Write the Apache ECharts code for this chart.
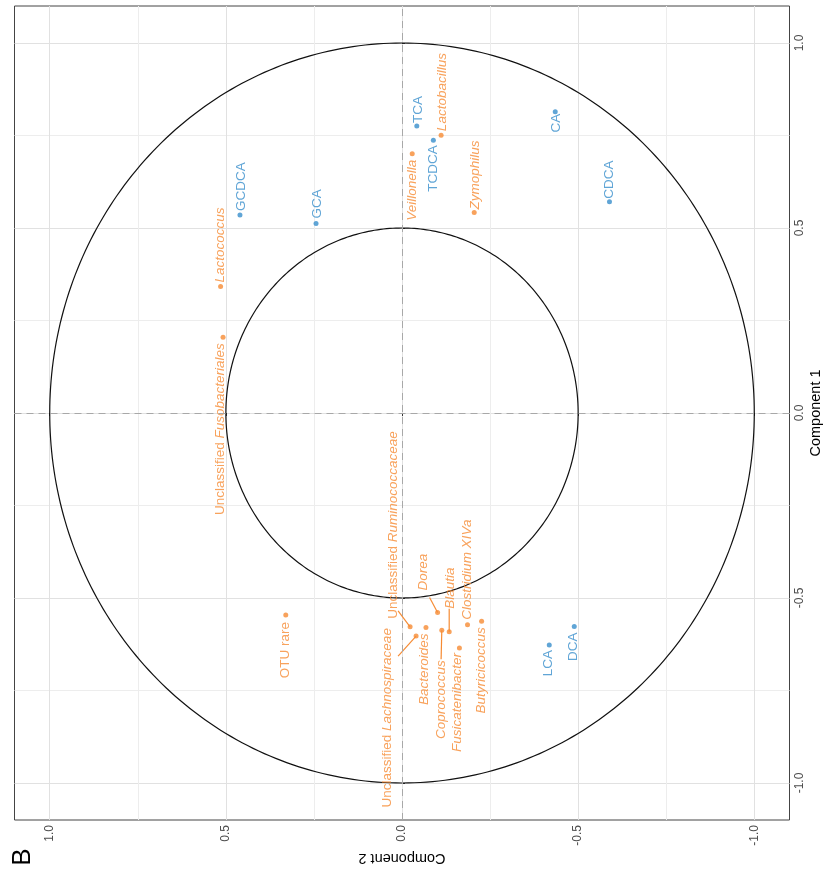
<!DOCTYPE html>
<html>
<head>
<meta charset="utf-8">
<script src="https://cdn.jsdelivr.net/npm/echarts@6/dist/echarts.min.js"></script>
<style>
  html, body { margin: 0; padding: 0; background: #fff; }
  #chart { width: 827px; height: 877px; }
</style>
</head>
<body>
<div id="chart"></div>
<script>
// Bile acids (component 1 = vertical, component 2 = horizontal)
const bileAcids = ['TCA', 'TCDCA', 'CA', 'CDCA', 'GCDCA', 'GCA', 'LCA', 'DCA'];
const bileComp1 = [0.776, 0.737, 0.814, 0.571, 0.535, 0.512, -0.627, -0.577];
const bileComp2 = [-0.042, -0.089, -0.435, -0.589, 0.460, 0.244, -0.418, -0.489];

// Bacterial taxa
const taxa = ['Lactobacillus', 'Veillonella', 'Zymophilus', 'Lactococcus',
  'Unclassified Fusobacteriales', 'OTU rare', 'Unclassified Ruminococcaceae',
  'Unclassified Lachnospiraceae', 'Bacteroides', 'Dorea', 'Coprococcus', 'Blautia',
  'Clostridium XIVa', 'Fusicatenibacter', 'Butyricicoccus'];
const taxaComp1 = [0.751, 0.701, 0.542, 0.342, 0.205, -0.546, -0.578, -0.603, -0.580,
  -0.539, -0.587, -0.591, -0.572, -0.635, -0.563];
const taxaComp2 = [-0.111, -0.029, -0.205, 0.515, 0.508, 0.330, -0.023, -0.040, -0.068,
  -0.101, -0.113, -0.134, -0.186, -0.163, -0.226];

// Correlation circles and axis breaks
const circleRadii = [0.5, 1];
const axisBreaks = [-1, -0.5, 0, 0.5, 1];
const gridBreaks = [-1, -0.75, -0.5, -0.25, 0, 0.25, 0.5, 0.75, 1];

// Label placement in px from each point: [dx, dy, direction the text runs]
const labelPlace = {
  'TCA': [1, -3, 'up'],
  'TCDCA': [0, 5, 'down'],
  'CA': [1, 2, 'down'],
  'CDCA': [0, -3, 'up'],
  'GCDCA': [1, -4, 'up'],
  'GCA': [1, -5, 'up'],
  'LCA': [-1, 5, 'down'],
  'DCA': [-1, 6, 'down'],
  'Lactobacillus': [1.5, -4, 'up'],
  'Veillonella': [0, 6, 'down'],
  'Zymophilus': [1, -3, 'up'],
  'Lactococcus': [0, -4, 'up'],
  'Unclassified Fusobacteriales': [-3, 6, 'down'],
  'OTU rare': [0, 7, 'down'],
  'Unclassified Ruminococcaceae': [-17, -8, 'up'],
  'Unclassified Lachnospiraceae': [-29, -8, 'down'],
  'Bacteroides': [-2, 6, 'down'],
  'Dorea': [-14, -22, 'up'],
  'Coprococcus': [-1, 30, 'down'],
  'Blautia': [1, -23, 'up'],
  'Clostridium XIVa': [0, -5, 'up'],
  'Fusicatenibacter': [-2, 5, 'down'],
  'Butyricicoccus': [0, 6, 'down']
};
// Leader segments (end point in px from the point)
const leaderEnds = {
  'Unclassified Ruminococcaceae': [-12, -16],
  'Unclassified Lachnospiraceae': [-18, 20],
  'Dorea': [-8, -15],
  'Coprococcus': [-0.7, 29],
  'Blautia': [0, -23]
};

const FONT = '"Liberation Sans", Arial, Helvetica, sans-serif';
const BLUE = '#388ECC';
const ORANGE = '#F68B33';
const SYM = 5;
const LABEL_SIZE = 13.5;
const plainWords = ['Unclassified', 'OTU', 'rare'];

function richTaxon(name) {
  return name.split(' ')
    .map(w => (plainWords.indexOf(w) >= 0 ? '{p|' + w + '}' : '{i|' + w + '}'))
    .join('{p| }');
}

function buildItems(names, c1, c2) {
  return names.map((n, i) => {
    const p = labelPlace[n];
    return {
      name: n,
      value: [c2[i], c1[i]],
      label: {
        position: [p[0] + SYM / 2, p[1] + SYM / 2],
        align: p[2] === 'up' ? 'left' : 'right'
      }
    };
  });
}

function labelBase(color, italicNames) {
  const rich = {
    p: { fontStyle: 'normal', fontSize: LABEL_SIZE, fontFamily: FONT, color: color },
    i: { fontStyle: 'italic', fontSize: LABEL_SIZE, fontFamily: FONT, color: color }
  };
  return {
    show: true,
    rotate: 90,
    verticalAlign: 'middle',
    color: color,
    fontSize: LABEL_SIZE,
    fontFamily: FONT,
    formatter: italicNames ? (prm => richTaxon(prm.name)) : (prm => '{p|' + prm.name + '}'),
    rich: rich
  };
}

const taxaIndex = {};
taxa.forEach((n, i) => { taxaIndex[n] = i; });
const leaderNames = Object.keys(leaderEnds);

const tickLabel = { color: '#4D4D4D', fontSize: 12, fontFamily: FONT };
const nameStyle = { color: '#000', fontSize: 14.5, fontFamily: FONT };

const chart = echarts.init(document.getElementById('chart'));
chart.setOption({
  animation: false,
  backgroundColor: '#fff',
  grid: {
    left: 14.5, right: 37.5, top: 6, bottom: 57,
    outerBoundsMode: 'none',
    containLabel: false,
    show: true, borderColor: '#444', borderWidth: 1, backgroundColor: '#fff'
  },
  xAxis: [
    {
      type: 'value', min: -1.1, max: 1.1, inverse: true, position: 'bottom',
      axisLine: { show: false },
      axisTick: { show: false, customValues: gridBreaks },
      axisLabel: { show: false },
      splitLine: { show: true, lineStyle: { color: ['#e1e1e1', '#ededed'], width: 1 } }
    },
    {
      type: 'value', min: -1.1, max: 1.1, inverse: true, position: 'bottom',
      axisLine: { show: false },
      axisTick: { show: true, customValues: axisBreaks, length: 3, lineStyle: { color: '#333' } },
      axisLabel: Object.assign({ customValues: axisBreaks, rotate: 90, margin: 5,
        formatter: v => v.toFixed(1) }, tickLabel),
      splitLine: { show: false },
      name: 'Component 2', nameLocation: 'middle', nameGap: 30, nameRotate: 180,
      nameMoveOverlap: false,
      nameTextStyle: nameStyle
    }
  ],
  yAxis: [
    {
      type: 'value', min: -1.1, max: 1.1, position: 'left',
      axisLine: { show: false },
      axisTick: { show: false, customValues: gridBreaks },
      axisLabel: { show: false },
      splitLine: { show: true, lineStyle: { color: ['#e1e1e1', '#ededed'], width: 1 } }
    },
    {
      type: 'value', min: -1.1, max: 1.1, position: 'right',
      axisLine: { show: false },
      axisTick: { show: true, customValues: axisBreaks, length: 3, lineStyle: { color: '#333' } },
      axisLabel: Object.assign({ customValues: axisBreaks, rotate: 90, margin: 4,
        formatter: v => v.toFixed(1) }, tickLabel),
      splitLine: { show: false },
      name: 'Component 1', nameLocation: 'middle', nameGap: 19, nameRotate: 90,
      nameMoveOverlap: false,
      nameTextStyle: nameStyle
    }
  ],
  graphic: [
    {
      type: 'text', x: 23, y: 857, rotation: Math.PI / 2,
      style: { text: 'B', fontSize: 26, fontFamily: FONT, fill: '#000',
        align: 'center', verticalAlign: 'middle' }
    }
  ],
  series: [
    {
      // correlation circles + zero reference lines
      type: 'custom',
      z: 1,
      silent: true,
      data: circleRadii.map(r => [r]),
      renderItem: function (params, api) {
        const r = api.value(0);
        const pts = [];
        for (let k = 0; k <= 360; k++) {
          const t = k * Math.PI / 180;
          pts.push(api.coord([r * Math.cos(t), r * Math.sin(t)]));
        }
        return {
          type: 'polyline',
          shape: { points: pts },
          style: { stroke: '#111', lineWidth: 1.2, fill: null }
        };
      },
      markLine: {
        silent: true,
        symbol: ['none', 'none'],
        label: { show: false },
        lineStyle: { color: '#a8a8a8', type: [7, 5], width: 1 },
        data: [{ xAxis: 0 }, { yAxis: 0 }]
      }
    },
    {
      // leader segments for displaced taxon labels
      type: 'custom',
      z: 3,
      silent: true,
      data: leaderNames.map(n => [taxaComp2[taxaIndex[n]], taxaComp1[taxaIndex[n]]]),
      renderItem: function (params, api) {
        const p = api.coord([api.value(0), api.value(1)]);
        const e = leaderEnds[leaderNames[params.dataIndex]];
        return {
          type: 'line',
          shape: { x1: p[0], y1: p[1], x2: p[0] + e[0], y2: p[1] + e[1] },
          style: { stroke: ORANGE, lineWidth: 1.2 }
        };
      }
    },
    {
      name: 'Bile acids',
      type: 'scatter',
      z: 4,
      symbol: 'circle',
      symbolSize: SYM,
      itemStyle: { color: BLUE },
      label: labelBase(BLUE, false),
      data: buildItems(bileAcids, bileComp1, bileComp2)
    },
    {
      name: 'Taxa',
      type: 'scatter',
      z: 4,
      symbol: 'circle',
      symbolSize: SYM,
      itemStyle: { color: ORANGE },
      label: labelBase(ORANGE, true),
      data: buildItems(taxa, taxaComp1, taxaComp2)
    }
  ]
});
</script>
</body>
</html>
